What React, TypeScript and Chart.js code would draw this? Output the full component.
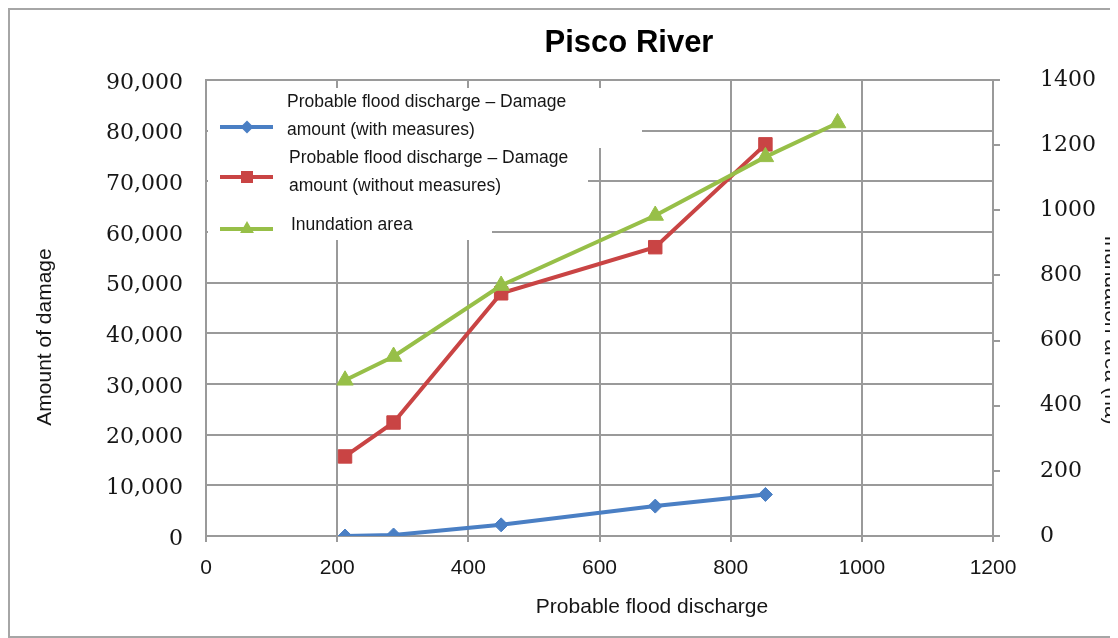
import React, { useEffect, useRef } from 'react';
import { Chart, registerables } from 'chart.js';

Chart.register(...registerables);

// Probable flood discharge (x) for the damage series
const dischargeDamage = [212, 286, 450, 685, 853];
// Damage amount with flood-control measures
const damageWithMeasures = [0, 200, 2200, 5900, 8200];
// Damage amount without measures
const damageWithoutMeasures = [15700, 22400, 47900, 57000, 77300];
// Probable flood discharge (x) for the inundation series
const dischargeArea = [212, 286, 450, 685, 853, 963];
// Inundation area (ha), right axis
const inundationArea = [478, 551, 769, 984, 1164, 1268];

const seriesNames = [
  ['Probable flood discharge – Damage', 'amount (with measures)'],
  ['Probable flood discharge – Damage', 'amount (without measures)'],
  ['Inundation area'],
];
const chartTitle = 'Pisco River';
const xTitle = 'Probable flood discharge';
const yTitle = 'Amount of damage';
const y1Title = 'Inundation area (ha)';

const BLUE = '#4a7fc4';
const RED = '#c94444';
const GREEN = '#97bf48';
const GRID = '#9a9a9a';
const TEXT = '#161616';

type Marker = 'diamond' | 'square' | 'triangle';

function drawMarker(ctx: CanvasRenderingContext2D, kind: Marker, x: number, y: number, r: number, color: string) {
  ctx.fillStyle = color;
  ctx.beginPath();
  if (kind === 'diamond') {
    ctx.moveTo(x, y - r);
    ctx.lineTo(x + r, y);
    ctx.lineTo(x, y + r);
    ctx.lineTo(x - r, y);
  } else if (kind === 'square') {
    ctx.rect(x - r, y - r, 2 * r, 2 * r);
  } else {
    ctx.moveTo(x, y - r);
    ctx.lineTo(x + r * 0.866, y + r / 2);
    ctx.lineTo(x - r * 0.866, y + r / 2);
  }
  ctx.closePath();
  ctx.fill();
}

// Title, axis titles and the in-plot legend panel
const decorPlugin = {
  id: 'decor',
  afterDatasetsDraw(chart: any) {
    const ctx: CanvasRenderingContext2D = chart.ctx;
    const { left, top } = chart.chartArea;
    ctx.save();

    // legend panel (white, covering the gridlines behind it)
    ctx.fillStyle = '#ffffff';
    ctx.fillRect(left + 2, top + 8, 434, 60);
    ctx.fillRect(left + 2, top + 68, 380, 57);
    ctx.fillRect(left + 2, top + 125, 284, 35);

    const items: { color: string; marker: Marker; r: number; lineY: number; textX: number; textY: number[] }[] = [
      { color: BLUE, marker: 'diamond', r: 6.5, lineY: top + 47, textX: left + 81, textY: [top + 22, top + 50] },
      { color: RED, marker: 'square', r: 6, lineY: top + 97, textX: left + 83, textY: [top + 78, top + 106] },
      { color: GREEN, marker: 'triangle', r: 8, lineY: top + 149, textX: left + 85, textY: [top + 145] },
    ];
    items.forEach((it, i) => {
      ctx.strokeStyle = it.color;
      ctx.lineWidth = 4;
      ctx.beginPath();
      ctx.moveTo(left + 14, it.lineY);
      ctx.lineTo(left + 67, it.lineY);
      ctx.stroke();
      drawMarker(ctx, it.marker, left + 41, it.lineY, it.r, it.color);
      ctx.fillStyle = TEXT;
      ctx.font = '17.5px "Liberation Sans", Arial, sans-serif';
      ctx.textAlign = 'left';
      ctx.textBaseline = 'middle';
      seriesNames[i].forEach((line, j) => ctx.fillText(line, it.textX, it.textY[j]));
    });

    // chart title
    ctx.fillStyle = '#000';
    ctx.font = 'bold 31px "Liberation Sans", Arial, sans-serif';
    ctx.textAlign = 'center';
    ctx.textBaseline = 'alphabetic';
    ctx.fillText(chartTitle, 619, 42);

    // axis titles
    ctx.fillStyle = TEXT;
    ctx.font = '21px "Liberation Sans", Arial, sans-serif';
    ctx.textBaseline = 'middle';
    ctx.fillText(xTitle, 642, 597);

    ctx.save();
    ctx.translate(35, 327);
    ctx.rotate(-Math.PI / 2);
    ctx.fillText(yTitle, 0, 0);
    ctx.restore();

    ctx.save();
    ctx.translate(1095, 320);
    ctx.rotate(Math.PI / 2);
    ctx.textBaseline = 'alphabetic';
    ctx.fillText(y1Title, 0, 0);
    ctx.restore();

    ctx.restore();
  },
};

export default function App() {
  const canvasRef = useRef<HTMLCanvasElement | null>(null);

  useEffect(() => {
    const canvas = canvasRef.current;
    if (!canvas) return;

    const chart = new Chart(canvas, {
      type: 'line',
      data: {
        datasets: [
          {
            label: seriesNames[0].join(' '),
            data: dischargeDamage.map((x, i) => ({ x, y: damageWithMeasures[i] })),
            yAxisID: 'y',
            borderColor: BLUE,
            backgroundColor: BLUE,
            borderWidth: 4,
            pointStyle: 'rectRot',
            pointRadius: 7,
            pointBorderWidth: 1,
            pointBackgroundColor: BLUE,
            pointBorderColor: BLUE,
            tension: 0,
            order: 2,
          },
          {
            label: seriesNames[1].join(' '),
            data: dischargeDamage.map((x, i) => ({ x, y: damageWithoutMeasures[i] })),
            yAxisID: 'y',
            borderColor: RED,
            backgroundColor: RED,
            borderWidth: 4,
            pointStyle: 'rect',
            pointRadius: 9.5,
            pointBorderWidth: 1,
            pointBackgroundColor: RED,
            pointBorderColor: RED,
            tension: 0,
            order: 1,
          },
          {
            label: seriesNames[2].join(' '),
            data: dischargeArea.map((x, i) => ({ x, y: inundationArea[i] })),
            yAxisID: 'y1',
            borderColor: GREEN,
            backgroundColor: GREEN,
            borderWidth: 4,
            pointStyle: 'triangle',
            pointRadius: 9.5,
            pointBorderWidth: 1,
            pointBackgroundColor: GREEN,
            pointBorderColor: GREEN,
            tension: 0,
            order: 0,
          },
        ],
      },
      options: {
        responsive: false,
        animation: false,
        layout: { padding: { top: 70, left: 0, right: 0, bottom: 0 } },
        plugins: {
          legend: { display: false },
          title: { display: false },
          tooltip: { enabled: false },
        },
        scales: {
          x: {
            type: 'linear',
            min: 0,
            max: 1200,
            ticks: {
              stepSize: 200,
              color: TEXT,
              padding: 14,
              font: { family: '"Liberation Sans", Arial, sans-serif', size: 21 },
              callback: (v: any) => String(v),
            },
            grid: { color: GRID, lineWidth: 2, drawTicks: true, tickLength: 6, tickColor: GRID },
            border: { color: GRID, width: 2 },
            afterFit: (s: any) => {
              s.height = 100;
            },
          },
          y: {
            position: 'left',
            min: 0,
            max: 90000,
            ticks: {
              stepSize: 10000,
              color: TEXT,
              padding: 23,
              labelOffset: 3,
              font: { family: '"DejaVu Serif", serif', size: 22 },
              callback: (v: any) => Number(v).toLocaleString('en-US'),
            },
            grid: { color: GRID, lineWidth: 2, drawTicks: false },
            border: { color: GRID, width: 2 },
            afterFit: (s: any) => {
              s.width = 196;
            },
          },
          y1: {
            position: 'right',
            min: 0,
            max: 1400,
            ticks: {
              stepSize: 200,
              color: TEXT,
              padding: 40,
              font: { family: '"DejaVu Serif", serif', size: 22 },
              callback: (v: any) => String(v),
            },
            grid: { drawOnChartArea: false, drawTicks: true, tickLength: 7, tickColor: GRID, lineWidth: 2 },
            border: { color: GRID, width: 2 },
            afterFit: (s: any) => {
              s.width = 125;
            },
          },
        },
      } as any,
      plugins: [decorPlugin],
    });

    return () => chart.destroy();
  }, []);

  return (
    <div
      style={{
        width: 1108,
        height: 626,
        border: '2px solid #a6a6a6',
        borderRight: 'none',
        background: '#fff',
      }}
    >
      <canvas ref={canvasRef} width={1108} height={626} style={{ display: 'block' }} />
    </div>
  );
}
